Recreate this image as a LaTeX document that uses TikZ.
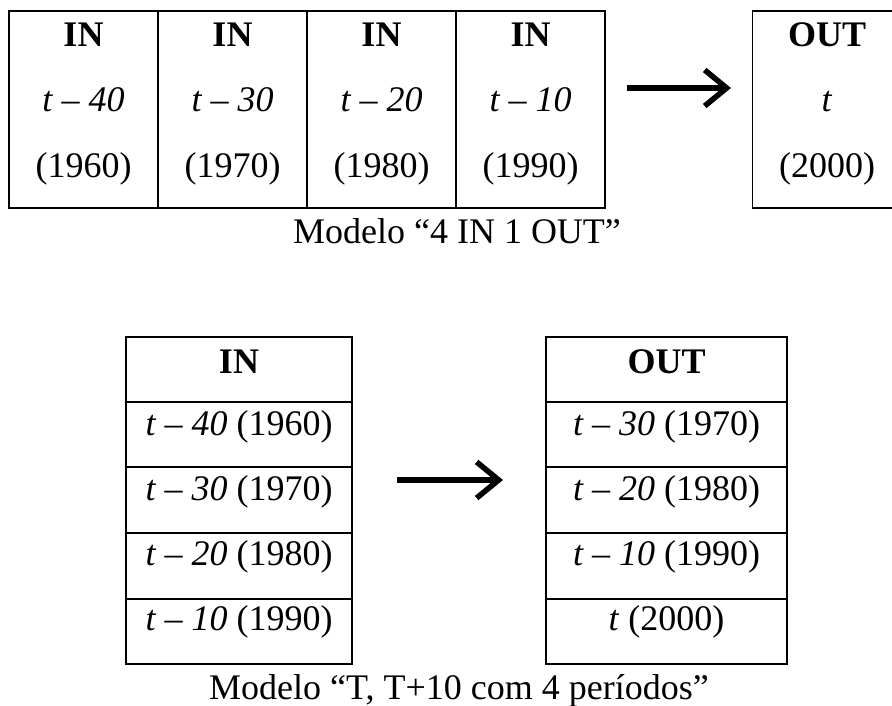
\documentclass[tikz,border=0pt]{standalone}
\usepackage{fontspec}
\setmainfont{Liberation Serif}
\usetikzlibrary{arrows.meta}
\begin{document}
\begin{tikzpicture}[x=1pt,y=-1pt,
  font=\fontsize{36pt}{43pt}\selectfont,
  cell/.style={draw, line width=1.6pt, inner sep=0pt},
  topcell/.style={cell, minimum width=149pt, minimum height=197pt},
  rowcell/.style={cell, minimum height=65pt},
  txt/.style={anchor=base, inner sep=0pt},
  bigarrow/.style={line width=5.5pt, -{Straight Barb[length=22pt,width=36pt]}}]
\useasboundingbox (0,0) rectangle (892,706);
\clip (0,0) rectangle (892,706);
% ---------- top model ----------
\node[topcell] (c1) at (83.5,109.5) {};
\node[topcell] (c2) at (232.5,109.5) {};
\node[topcell] (c3) at (381.5,109.5) {};
\node[topcell] (c4) at (530.5,109.5) {};
\node[topcell] (c5) at (827,109.5) {};
\foreach \n/\x/\a/\b in {1/83.5/40/1960,2/232.5/30/1970,3/381.5/20/1980,4/530.5/10/1990}{
  \node[txt] (h\n) at (\x,47) {\textbf{IN}};
  \node[txt] (t\n) at (\x,112) {\textit{t – \a}};
  \node[txt] (y\n) at (\x,178) {(\b)};
}
\node[txt] (h5) at (827,47) {\textbf{OUT}};
\node[txt] (t5) at (827,112) {\textit{t}};
\node[txt] (y5) at (827,178) {(2000)};
\node[txt] (cap1) at (457,243) {Modelo “4 IN 1 OUT”};
\coordinate (a1s) at (627,88);
\coordinate (a1e) at (731,88);
\draw[bigarrow] (a1s) -- (a1e);
% ---------- bottom model ----------
\foreach \r/\y in {0/369.5,1/434.5,2/500,3/566,4/631.5}{
  \node[rowcell, minimum width=226pt, minimum height=65.5pt] (L\r) at (239,\y) {};
  \node[rowcell, minimum width=241pt, minimum height=65.5pt] (R\r) at (666.5,\y) {};
}
\node[txt] (Lh) at (239,373) {\textbf{IN}};
\node[txt] (L1t) at (239,435) {\textit{t – 40} (1960)};
\node[txt] (L2t) at (239,500) {\textit{t – 30} (1970)};
\node[txt] (L3t) at (239,565) {\textit{t – 20} (1980)};
\node[txt] (L4t) at (239,630) {\textit{t – 10} (1990)};
\node[txt] (Rh) at (666.5,373) {\textbf{OUT}};
\node[txt] (R1t) at (666.5,435) {\textit{t – 30} (1970)};
\node[txt] (R2t) at (666.5,500) {\textit{t – 20} (1980)};
\node[txt] (R3t) at (666.5,565) {\textit{t – 10} (1990)};
\node[txt] (R4t) at (666.5,630) {\textit{t} (2000)};
\node[txt] (cap2) at (459,699) {Modelo “T, T+10 com 4 períodos”};
\coordinate (a2s) at (397,480);
\coordinate (a2e) at (503,480);
\draw[bigarrow] (a2s) -- (a2e);
\end{tikzpicture}
\end{document}
